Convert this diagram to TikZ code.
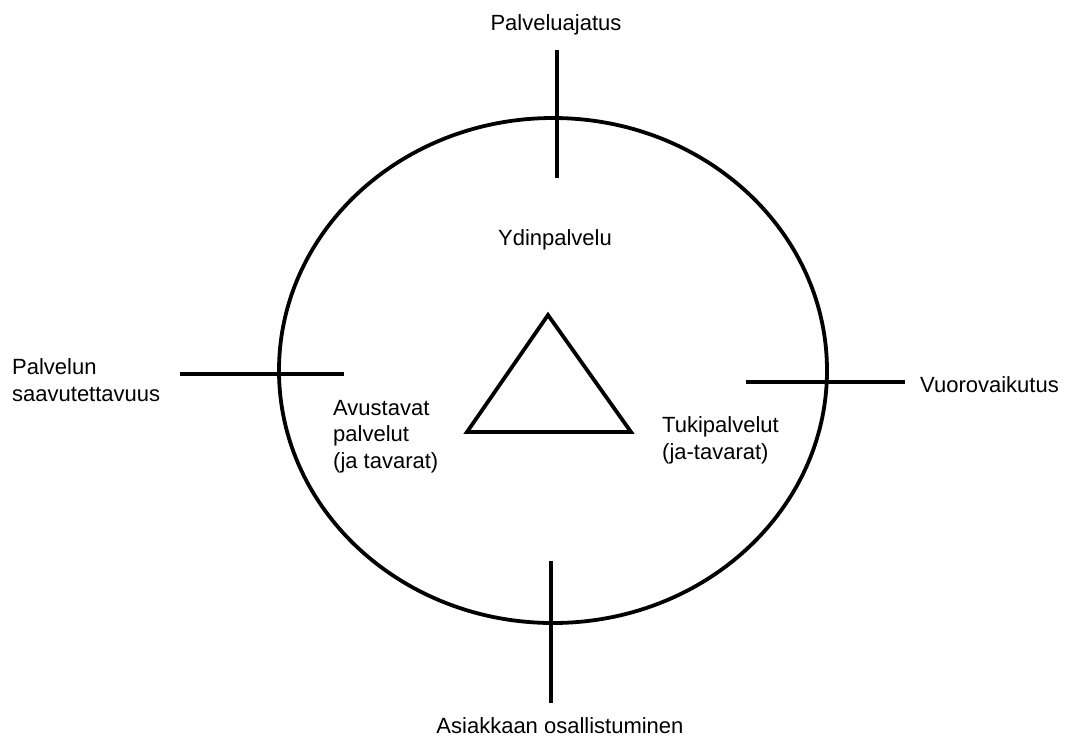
\documentclass[tikz,border=0pt]{standalone}
\usepackage{fontspec}
\setmainfont{Liberation Sans}
\begin{document}
\begin{tikzpicture}[x=1pt,y=-1pt,
  stroke/.style={line width=3.8pt,black},
  label/.style={inner sep=0pt,font=\fontsize{22}{26.5}\selectfont,align=left}]
\useasboundingbox (0,0) rectangle (1072,740);
% outer circle
\draw[stroke] (553,370.5) ellipse [x radius=274, y radius=252.5];
% crossing ticks
\coordinate (t1) at (557,50);  \coordinate (t2) at (557,178);
\coordinate (l1) at (180,374); \coordinate (l2) at (344,374);
\coordinate (r1) at (746,382); \coordinate (r2) at (905,382);
\coordinate (b1) at (551,561); \coordinate (b2) at (551,703);
\draw[stroke] (t1) -- (t2);
\draw[stroke] (l1) -- (l2);
\draw[stroke] (r1) -- (r2);
\draw[stroke] (b1) -- (b2);
% inner triangle
\coordinate (ta) at (548,315);
\coordinate (tl) at (467,432);
\coordinate (tr) at (631,432);
\draw[stroke,line join=miter] (ta) -- (tr) -- (tl) -- cycle;
% labels (multi-line nodes are anchored at the baseline of their last line)
\node[label,anchor=base] (top) at (556,30) {Palveluajatus};
\node[label,anchor=base] (core) at (555,245) {Ydinpalvelu};
\node[label,anchor=base west] (left) at (12,401) {Palvelun\\saavutettavuus};
\node[label,anchor=base west] (right) at (920,392) {Vuorovaikutus};
\node[label,anchor=base west] (aux) at (333,468) {Avustavat\\palvelut\\(ja tavarat)};
\node[label,anchor=base west] (supp) at (662,459) {Tukipalvelut\\(ja-tavarat)};
\node[label,anchor=base] (bottom) at (560,733) {Asiakkaan osallistuminen};
\end{tikzpicture}
\end{document}
